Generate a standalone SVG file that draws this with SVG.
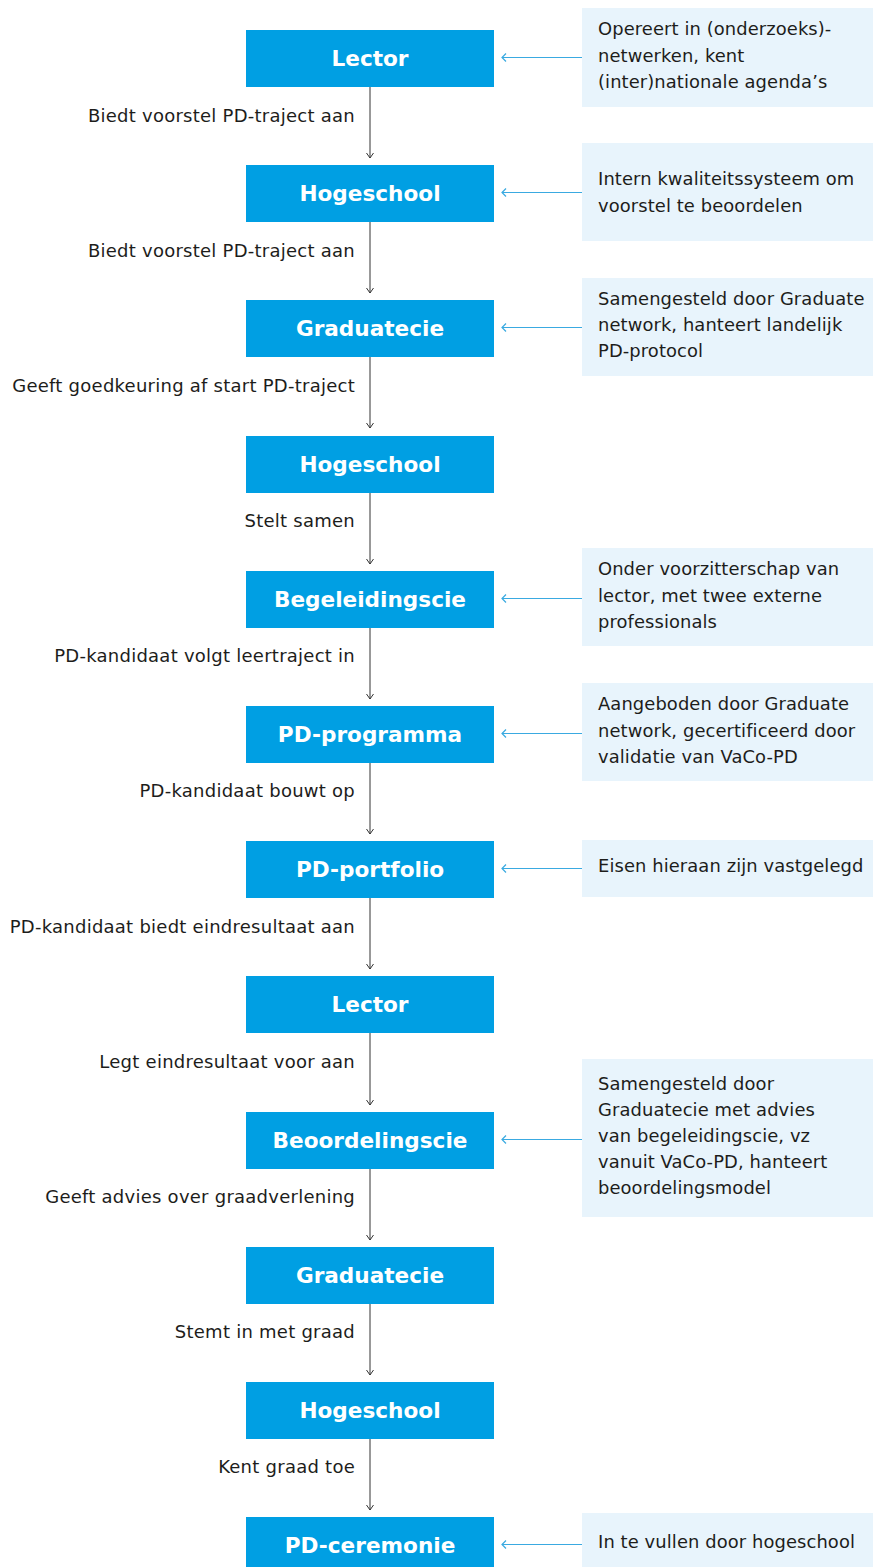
<svg xmlns="http://www.w3.org/2000/svg" width="873" height="1567" viewBox="0 0 873 1567">
<style>
.node rect{fill:#009fe3}
.node text{fill:#fff;font-family:"DejaVu Sans",sans-serif;font-weight:700;font-size:21.6px;text-anchor:middle}
.note rect{fill:#e8f4fc}
.note text{fill:#1d1d1b;font-family:"DejaVu Sans",sans-serif;font-size:17.9px;letter-spacing:0.1px}
.lbl{fill:#1d1d1b;font-family:"DejaVu Sans",sans-serif;font-size:18px;letter-spacing:0.25px;text-anchor:end}
.flow{stroke:#333;stroke-width:1;fill:none;marker-end:url(#ah)}
.side{stroke:#3aaae1;stroke-width:1.2;fill:none;marker-end:url(#ahb)}
</style>
<defs>
<marker id="ah" markerUnits="userSpaceOnUse" markerWidth="12" markerHeight="12" viewBox="-6 -6 12 12" refX="0" refY="0" orient="auto">
<path d="M-5,-3.5 L0,0 L-5,3.5" fill="none" stroke="#333" stroke-width="1"/>
</marker>
<marker id="ahb" markerUnits="userSpaceOnUse" markerWidth="12" markerHeight="12" viewBox="-6 -6 12 12" refX="0" refY="0" orient="auto">
<path d="M-4,-4 L0,0 L-4,4" fill="none" stroke="#3aaae1" stroke-width="1.2"/>
</marker>
</defs>
<rect width="873" height="1567" fill="#fff"/>

<g id="notes">
<g id="note1" class="note"><rect x="582" y="8" width="291" height="99"/><text x="598" y="35">Opereert in (onderzoeks)-</text><text x="598" y="61.5">netwerken, kent</text><text x="598" y="88">(inter)nationale agenda’s</text></g>
<g id="note2" class="note"><rect x="582" y="143" width="291" height="98"/><text x="598" y="185">Intern kwaliteitssysteem om</text><text x="598" y="212">voorstel te beoordelen</text></g>
<g id="note3" class="note"><rect x="582" y="278" width="291" height="98"/><text x="598" y="305">Samengesteld door Graduate</text><text x="598" y="331">network, hanteert landelijk</text><text x="598" y="357">PD-protocol</text></g>
<g id="note4" class="note"><rect x="582" y="548" width="291" height="98"/><text x="598" y="575">Onder voorzitterschap van</text><text x="598" y="602">lector, met twee externe</text><text x="598" y="628">professionals</text></g>
<g id="note5" class="note"><rect x="582" y="683" width="291" height="98"/><text x="598" y="710">Aangeboden door Graduate</text><text x="598" y="737">network, gecertificeerd door</text><text x="598" y="763">validatie van VaCo-PD</text></g>
<g id="note6" class="note"><rect x="582" y="840" width="291" height="57"/><text x="598" y="872">Eisen hieraan zijn vastgelegd</text></g>
<g id="note7" class="note"><rect x="582" y="1059" width="291" height="158"/><text x="598" y="1090">Samengesteld door</text><text x="598" y="1116">Graduatecie met advies</text><text x="598" y="1142">van begeleidingscie, vz</text><text x="598" y="1168">vanuit VaCo-PD, hanteert</text><text x="598" y="1194">beoordelingsmodel</text></g>
<g id="note8" class="note"><rect x="582" y="1513" width="291" height="60"/><text x="598" y="1548">In te vullen door hogeschool</text></g>
</g>

<g id="n1" class="node"><rect x="246" y="30" width="248" height="57"/><text x="370" y="66">Lector</text></g>
<g id="n2" class="node"><rect x="246" y="165" width="248" height="57"/><text x="370" y="201">Hogeschool</text></g>
<g id="n3" class="node"><rect x="246" y="300" width="248" height="57"/><text x="370" y="336">Graduatecie</text></g>
<g id="n4" class="node"><rect x="246" y="436" width="248" height="57"/><text x="370" y="472">Hogeschool</text></g>
<g id="n5" class="node"><rect x="246" y="571" width="248" height="57"/><text x="370" y="607">Begeleidingscie</text></g>
<g id="n6" class="node"><rect x="246" y="706" width="248" height="57"/><text x="370" y="742">PD-programma</text></g>
<g id="n7" class="node"><rect x="246" y="841" width="248" height="57"/><text x="370" y="877">PD-portfolio</text></g>
<g id="n8" class="node"><rect x="246" y="976" width="248" height="57"/><text x="370" y="1012">Lector</text></g>
<g id="n9" class="node"><rect x="246" y="1112" width="248" height="57"/><text x="370" y="1148">Beoordelingscie</text></g>
<g id="n10" class="node"><rect x="246" y="1247" width="248" height="57"/><text x="370" y="1283">Graduatecie</text></g>
<g id="n11" class="node"><rect x="246" y="1382" width="248" height="57"/><text x="370" y="1418">Hogeschool</text></g>
<g id="n12" class="node"><rect x="246" y="1517" width="248" height="57"/><text x="370" y="1553">PD-ceremonie</text></g>

<g id="connectors">
<path class="flow" d="M370,87 V158"/>
<path class="flow" d="M370,222 V293"/>
<path class="flow" d="M370,357 V428"/>
<path class="flow" d="M370,493 V564"/>
<path class="flow" d="M370,628 V699"/>
<path class="flow" d="M370,763 V834"/>
<path class="flow" d="M370,898 V969"/>
<path class="flow" d="M370,1033 V1105"/>
<path class="flow" d="M370,1169 V1240"/>
<path class="flow" d="M370,1304 V1375"/>
<path class="flow" d="M370,1439 V1510"/>
<path class="side" d="M582,57.5 H502"/>
<path class="side" d="M582,192.5 H502"/>
<path class="side" d="M582,327.5 H502"/>
<path class="side" d="M582,598.5 H502"/>
<path class="side" d="M582,733.5 H502"/>
<path class="side" d="M582,868.5 H502"/>
<path class="side" d="M582,1139.5 H502"/>
<path class="side" d="M582,1544.5 H502"/>
<text class="lbl" x="355" y="122">Biedt voorstel PD-traject aan</text>
<text class="lbl" x="355" y="257">Biedt voorstel PD-traject aan</text>
<text class="lbl" x="355" y="392">Geeft goedkeuring af start PD-traject</text>
<text class="lbl" x="355" y="527">Stelt samen</text>
<text class="lbl" x="355" y="662">PD-kandidaat volgt leertraject in</text>
<text class="lbl" x="355" y="797">PD-kandidaat bouwt op</text>
<text class="lbl" x="355" y="933">PD-kandidaat biedt eindresultaat aan</text>
<text class="lbl" x="355" y="1068">Legt eindresultaat voor aan</text>
<text class="lbl" x="355" y="1203">Geeft advies over graadverlening</text>
<text class="lbl" x="355" y="1338">Stemt in met graad</text>
<text class="lbl" x="355" y="1473">Kent graad toe</text>
</g>
</svg>
